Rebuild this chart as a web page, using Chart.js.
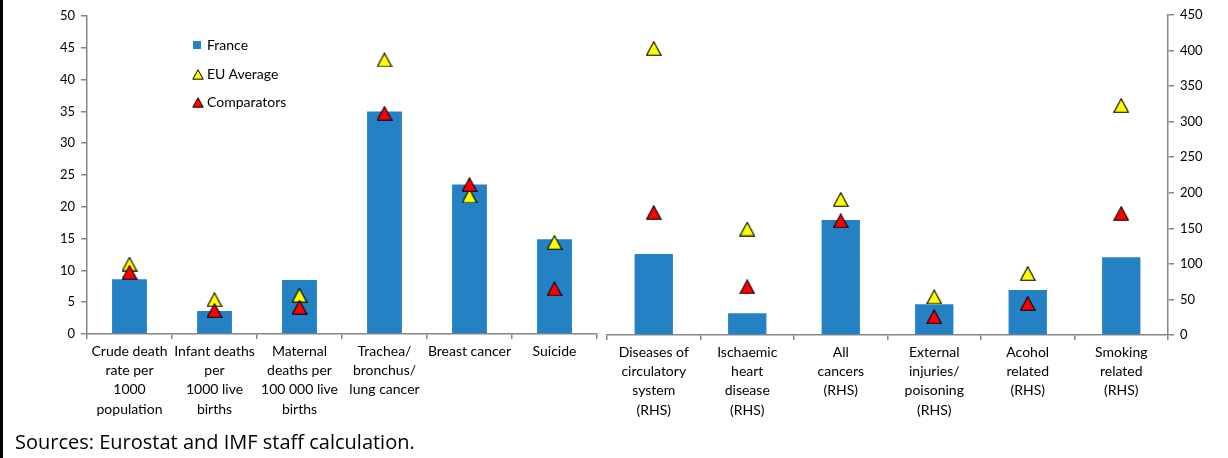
<!DOCTYPE html>
<html>
<head>
<meta charset="utf-8">
<script src="https://cdn.jsdelivr.net/npm/chart.js@4"></script>
<style>
  html, body { margin: 0; padding: 0; background: #fff; }
  body { width: 1228px; height: 458px; position: relative; overflow: hidden; font-family: Lato, "Open Sans", sans-serif; color: #000; }
  #leftBox { position: absolute; left: 0; top: 0; width: 606px; height: 430px; }
  #rightBox { position: absolute; left: 598px; top: 0; width: 630px; height: 430px; background: #fff; }
  .edge { position: absolute; left: 0; top: 0; width: 3px; height: 458px; background: #000; }
  .legend { position: absolute; left: 192px; top: 0; font-size: 14px; }
  .legend div { position: absolute; left: 0; white-space: nowrap; height: 18px; line-height: 18px; }
  .legend svg { position: absolute; left: 0; top: 4px; }
  .legend span { position: absolute; left: 15px; top: 0; }
  .note { position: absolute; left: 15px; top: 428px; font-family: "Open Sans", sans-serif; font-size: 20px; white-space: nowrap; }
</style>
</head>
<body>
<div id="leftBox"><canvas id="leftChart" width="606" height="430"></canvas></div>
<div id="rightBox"><canvas id="rightChart" width="630" height="430"></canvas></div>
<div class="edge"></div>

<div class="legend">
  <div style="top:36px"><svg width="10" height="10"><rect x="1" y="1" width="8" height="8" fill="#2381c4"/></svg><span>France</span></div>
  <div style="top:65px"><svg width="12" height="11"><polygon points="6,0.8 11.2,10.2 0.8,10.2" fill="#ffff00" stroke="#000" stroke-width="1"/></svg><span>EU Average</span></div>
  <div style="top:93px"><svg width="12" height="11"><polygon points="6,0.8 11.2,10.2 0.8,10.2" fill="#ff0000" stroke="#000" stroke-width="1"/></svg><span>Comparators</span></div>
</div>

<div class="note">Sources: Eurostat and IMF staff calculation.</div>

<script>
// left panel (LHS axis)
const leftLabels = [
  ["Crude death", "rate per", "1000", "population"],
  ["Infant deaths", "per", "1000 live", "births"],
  ["Maternal", "deaths per", "100 000 live", "births"],
  ["Trachea/", "bronchus/", "lung cancer"],
  ["Breast cancer"],
  ["Suicide"]
];
const leftFrance = [8.6, 3.6, 8.5, 35.0, 23.5, 14.9];
const leftEU = [11.0, 5.4, 6.1, 43.1, 21.7, 14.4];
const leftComp = [9.7, 3.7, 4.2, 34.7, 23.5, 7.1];

// right panel (RHS axis)
const rightLabels = [
  ["Diseases of", "circulatory", "system", "(RHS)"],
  ["Ischaemic", "heart", "disease", "(RHS)"],
  ["All", "cancers", "(RHS)"],
  ["External", "injuries/", "poisoning", "(RHS)"],
  ["Acohol", "related", "(RHS)"],
  ["Smoking", "related", "(RHS)"]
];
const rightFrance = [114, 30.5, 161.7, 43.2, 63.3, 109.3];
const rightEU = [403, 149, 190.6, 53.7, 86.5, 322.8];
const rightComp = [172.3, 67.8, 160.6, 25.7, 44.3, 171];

const blue = "#2381c4";
const axisGrey = "#868686";
const fontFamily = "Lato, 'Open Sans', sans-serif";

// Excel-like triangle marker, centred on its bounding box
function triangle(fill) {
  const c = document.createElement("canvas");
  c.width = 16;
  c.height = 15;
  const g = c.getContext("2d");
  g.beginPath();
  g.moveTo(8, 0.8);
  g.lineTo(15.2, 14.2);
  g.lineTo(0.8, 14.2);
  g.closePath();
  g.fillStyle = fill;
  g.fill();
  g.strokeStyle = "#000";
  g.lineWidth = 1.1;
  g.stroke();
  return c;
}
const yellowTri = triangle("#ffff00");
const redTri = triangle("#ff0000");

function datasets(france, eu, comp) {
  return [
    { type: "bar", label: "France", data: france, backgroundColor: blue, order: 3,
      barPercentage: 1, categoryPercentage: 0.41 },
    { type: "line", label: "EU Average", data: eu, showLine: false, order: 2,
      pointStyle: yellowTri, pointRadius: 8, pointHoverRadius: 8 },
    { type: "line", label: "Comparators", data: comp, showLine: false, order: 1,
      pointStyle: redTri, pointRadius: 8, pointHoverRadius: 8 }
  ];
}

Chart.defaults.font.family = fontFamily;
Chart.defaults.color = "#000";

function xAxis(height) {
  return {
    grid: { offset: true, drawOnChartArea: false, tickLength: 5, color: axisGrey, lineWidth: 1.5 },
    border: { color: axisGrey, width: 1.5 },
    ticks: { font: { size: 14, lineHeight: 1.37 }, padding: 3, maxRotation: 0, autoSkip: false },
    afterFit(scale) { scale.height = height; }
  };
}

function yAxis(position, max, step, width) {
  return {
    position: position,
    min: 0,
    max: max,
    grid: { drawOnChartArea: false, tickLength: 6, color: axisGrey, lineWidth: 1.5 },
    border: { color: axisGrey, width: 1.5 },
    ticks: { stepSize: step, font: { size: 13 }, padding: 6 },
    afterFit(scale) { scale.width = width; }
  };
}

const common = {
  responsive: false,
  animation: false,
  plugins: { legend: { display: false }, tooltip: { enabled: false } }
};

new Chart(document.getElementById("leftChart"), {
  type: "bar",
  data: { labels: leftLabels, datasets: datasets(leftFrance, leftEU, leftComp) },
  options: {
    ...common,
    layout: { padding: { top: 16, left: 0, right: 0, bottom: 0 } },
    scales: {
      x: xAxis(96),
      y: yAxis("left", 50, 5, 87)
    }
  }
});

new Chart(document.getElementById("rightChart"), {
  type: "bar",
  data: { labels: rightLabels, datasets: datasets(rightFrance, rightEU, rightComp) },
  options: {
    ...common,
    layout: { padding: { top: 15, left: 0, right: 0, bottom: 0 } },
    scales: {
      x: xAxis(95),
      y: yAxis("right", 450, 50, 60)
    }
  }
});
</script>
</body>
</html>
